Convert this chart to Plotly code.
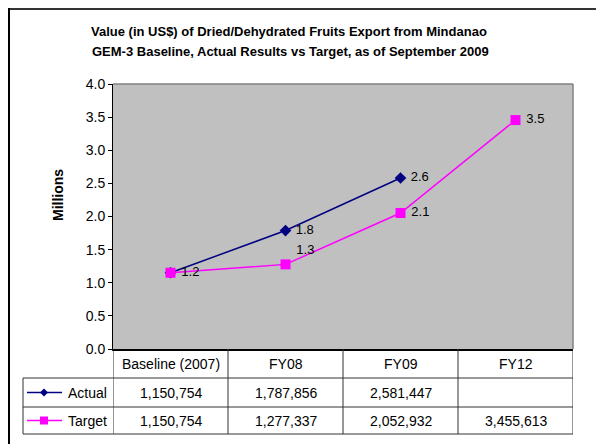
import plotly.graph_objects as go

# ---- data ----
categories = ["Baseline (2007)", "FY08", "FY09", "FY12"]
actual = [1150754, 1787856, 2581447, None]
target = [1150754, 1277337, 2052932, 3455613]
series_names = ["Actual", "Target"]
y_ticks = [0, 0.5, 1.0, 1.5, 2.0, 2.5, 3.0, 3.5, 4.0]
title_line1 = "Value (in US$) of Dried/Dehydrated Fruits Export from Mindanao"
title_line2 = "GEM-3 Baseline, Actual Results vs Target, as of September 2009"
y_title = "Millions"

# ---- layout geometry (pixels) ----
W, H = 596, 444
L, R, T, B = 113, 23, 84, 95
PW, PH = W - L - R, H - T - B
FONT = "Arial, Liberation Sans, sans-serif"


def px(x):
    return (x - L) / PW


def py(y):
    return (H - B - y) / PH


xs = list(range(len(categories)))
a_m = [v / 1e6 if v is not None else None for v in actual]
t_m = [v / 1e6 for v in target]

PAD = "\u00a0"
a_text = []
for i, v in enumerate(a_m):
    if v is None or (i == 0 and round(v, 1) == round(t_m[i], 1)):
        a_text.append("")
    else:
        a_text.append(PAD + f"{v:.1f}")
t_text = [PAD + f"{v:.1f}" for v in t_m]
t_pos = ["middle right"] * len(t_m)
t_pos[1] = "top right"

NAVY = "#000080"
MAG = "#FF00FF"

fig = go.Figure()
fig.add_trace(go.Scatter(
    x=xs, y=a_m, mode="lines+markers+text", name=series_names[0],
    line=dict(color=NAVY, width=1.5),
    marker=dict(symbol="diamond", size=9, color=NAVY),
    text=a_text, textposition="middle right",
    textfont=dict(family=FONT, size=13, color="black"),
    cliponaxis=False,
))
fig.add_trace(go.Scatter(
    x=xs, y=t_m, mode="lines+markers+text", name=series_names[1],
    line=dict(color=MAG, width=1.5),
    marker=dict(symbol="square", size=10, color=MAG),
    text=t_text, textposition=t_pos,
    textfont=dict(family=FONT, size=13, color="black"),
    cliponaxis=False,
))

shapes = []
annotations = []

# plot area top/right grey border
shapes.append(dict(type="line", xref="paper", yref="paper", x0=0, x1=1, y0=1, y1=1,
                   line=dict(color="#808080", width=1.5)))
shapes.append(dict(type="line", xref="paper", yref="paper", x0=1, x1=1, y0=0, y1=1,
                   line=dict(color="#808080", width=1.5)))

# outer frame
shapes.append(dict(type="line", xref="paper", yref="paper", x0=px(8), x1=px(W), y0=py(9), y1=py(9),
                   line=dict(color="#333333", width=2)))
shapes.append(dict(type="line", xref="paper", yref="paper", x0=px(9), x1=px(9), y0=py(8), y1=py(H + 5),
                   line=dict(color="black", width=2)))

# data table grid
GRID = dict(color="#333333", width=1)
row_tops = [H - B, 378, 407, 434]
tab_left = 23
for k in range(len(categories) + 1):
    shapes.append(dict(type="line", xref="x", yref="paper", x0=k - 0.5, x1=k - 0.5,
                       y0=py(row_tops[0]), y1=py(row_tops[3]), line=GRID))
shapes.append(dict(type="line", xref="paper", yref="paper", x0=px(tab_left), x1=px(tab_left),
                   y0=py(row_tops[1]), y1=py(row_tops[3]), line=GRID))
for yy in row_tops[1:]:
    shapes.append(dict(type="line", xref="paper", yref="paper", x0=px(tab_left), x1=1,
                       y0=py(yy), y1=py(yy), line=GRID))

# header row text
hdr_y = py((row_tops[0] + row_tops[1]) / 2)
for i, c in enumerate(categories):
    annotations.append(dict(x=i, y=hdr_y, xref="x", yref="paper", text=c, showarrow=False,
                            font=dict(family=FONT, size=14, color="black"),
                            xanchor="center", yanchor="middle"))

# data rows
rows = [(series_names[0], actual, NAVY, "diamond"), (series_names[1], target, MAG, "square")]
for r, (name, vals, col, sym) in enumerate(rows):
    yc = py((row_tops[r + 1] + row_tops[r + 2]) / 2)
    for i, v in enumerate(vals):
        if v is None:
            continue
        annotations.append(dict(x=i, y=yc, xref="x", yref="paper", text=f"{v:,}", showarrow=False,
                                font=dict(family=FONT, size=14, color="black"),
                                xanchor="center", yanchor="middle"))
    shapes.append(dict(type="line", xref="paper", yref="paper", x0=px(27), x1=px(62), y0=yc, y1=yc,
                       line=dict(color=col, width=1.5)))
    if sym == "square":
        shapes.append(dict(type="rect", xref="paper", yref="paper", xsizemode="pixel", ysizemode="pixel",
                           xanchor=px(44), yanchor=yc, x0=-4, x1=4, y0=-4, y1=4,
                           fillcolor=col, line=dict(width=0)))
    else:
        shapes.append(dict(type="path", xref="paper", yref="paper", xsizemode="pixel", ysizemode="pixel",
                           xanchor=px(44), yanchor=yc, path="M -4 0 L 0 4 L 4 0 L 0 -4 Z",
                           fillcolor=col, line=dict(width=0)))
    annotations.append(dict(x=px(66), y=yc, xref="paper", yref="paper", text=name, showarrow=False,
                            font=dict(family=FONT, size=14, color="black"),
                            xanchor="left", yanchor="middle"))

# title
annotations.append(dict(x=px(289), y=py(31), xref="paper", yref="paper", text=f"<b>{title_line1}</b>",
                        showarrow=False, font=dict(family=FONT, size=13, color="black"),
                        xanchor="center", yanchor="middle"))
annotations.append(dict(x=px(290), y=py(51), xref="paper", yref="paper", text=f"<b>{title_line2}</b>",
                        showarrow=False, font=dict(family=FONT, size=13, color="black"),
                        xanchor="center", yanchor="middle"))
# y-axis title
annotations.append(dict(x=px(58), y=py(195), xref="paper", yref="paper", text=f"<b>{y_title}</b>",
                        showarrow=False, textangle=-90, font=dict(family=FONT, size=14, color="black"),
                        xanchor="center", yanchor="middle"))

fig.update_layout(
    width=W, height=H, autosize=False,
    margin=dict(l=L, r=R, t=T, b=B, pad=0),
    paper_bgcolor="white", plot_bgcolor="#C0C0C0",
    showlegend=False,
    font=dict(family=FONT, size=14, color="black"),
    shapes=shapes, annotations=annotations,
    xaxis=dict(range=[-0.5, len(categories) - 0.5], showticklabels=False, ticks="",
               showgrid=False, zeroline=False, showline=True, linecolor="black", linewidth=2,
               fixedrange=True),
    yaxis=dict(range=[0, 4], tickvals=y_ticks, tickformat=".1f", ticks="outside", ticklen=4,
               tickcolor="black", showgrid=False, zeroline=False, showline=True,
               linecolor="black", linewidth=1, tickfont=dict(family=FONT, size=14, color="black"),
               fixedrange=True),
)

fig.write_html("out.html", config={"displayModeBar": False},
               post_script="document.body.style.margin='0';document.body.style.overflow='hidden';")
